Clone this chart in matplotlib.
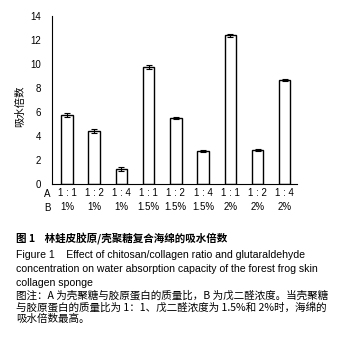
import matplotlib
matplotlib.use("Agg")
import matplotlib.pyplot as plt
import numpy as np

plt.rcParams['font.family'] = ['Noto Sans CJK SC', 'DejaVu Sans']

ratios = ["1 : 1", "1 : 2", "1 : 4", "1 : 1", "1 : 2", "1 : 4", "1 : 1", "1 : 2", "1 : 4"]
concs = ["1%", "1%", "1%", "1.5%", "1.5%", "1.5%", "2%", "2%", "2%"]
values = [5.75, 4.42, 1.25, 9.75, 5.5, 2.75, 12.4, 2.83, 8.67]
errors = [0.2, 0.18, 0.15, 0.15, 0.1, 0.1, 0.12, 0.12, 0.12]
yticks = [0, 2, 4, 6, 8, 10, 12, 14]

W, H = 345, 348
fig = plt.figure(figsize=(W/100, H/100), dpi=100)
ax = fig.add_axes([52/W, 1-184/H, (297-52)/W, (184-16)/H])
x = np.arange(len(values))
ax.bar(x, values, width=0.42, color='white', edgecolor='black', linewidth=1.0,
       yerr=errors, error_kw=dict(ecolor='black', elinewidth=0.8, capsize=2, capthick=0.8))
ax.set_ylim(0, 14)
ax.set_xlim(-0.55, len(values)-0.55)
ax.set_yticks(yticks)
ax.tick_params(axis='y', labelsize=7, length=0, pad=8)
for lab in ax.get_yticklabels():
    lab.set_family(['Liberation Sans'])
ax.set_xticks([])
for s in ['top', 'right']:
    ax.spines[s].set_visible(False)
ax.spines['left'].set_linewidth(0.8)
ax.spines['bottom'].set_linewidth(0.8)
ax.set_ylabel("吸水倍数", fontsize=7.5)
ax.yaxis.set_label_coords(-0.11, 0.46)

for i in x:
    ax.text(i, -0.75, ratios[i], ha='center', va='center', fontsize=7,
            family=['Liberation Sans'])
    ax.text(i, -1.95, concs[i], ha='center', va='center', fontsize=7,
            family=['Liberation Sans'])
fig.text(47/W, 1-194/H, "A", ha='center', va='center', fontsize=7, family=['Liberation Sans'])
fig.text(47/W, 1-208/H, "B", ha='center', va='center', fontsize=7, family=['Liberation Sans'])

fs = 7.6
fig.text(16/W, 1-239/H, "图 1    林蛙皮胶原/壳聚糖复合海绵的吸水倍数", ha='left', va='center',
         fontsize=fs, fontweight='bold')
fig.text(16/W, 1-255/H, "Figure 1    Effect of chitosan/collagen ratio and glutaraldehyde",
         ha='left', va='center', fontsize=fs, family=['Liberation Sans'])
fig.text(16/W, 1-269/H, "concentration on water absorption capacity of the forest frog skin",
         ha='left', va='center', fontsize=fs, family=['Liberation Sans'])
fig.text(16/W, 1-283/H, "collagen sponge", ha='left', va='center', fontsize=fs,
         family=['Liberation Sans'])
fig.text(16/W, 1-295/H, "图注：A 为壳聚糖与胶原蛋白的质量比，B 为戊二醛浓度。当壳聚糖",
         ha='left', va='center', fontsize=fs)
fig.text(16/W, 1-307/H, "与胶原蛋白的质量比为 1：1、戊二醛浓度为 1.5%和 2%时，海绵的",
         ha='left', va='center', fontsize=fs)
fig.text(16/W, 1-319/H, "吸水倍数最高。", ha='left', va='center', fontsize=fs)

fig.savefig("out.png", dpi=100)
